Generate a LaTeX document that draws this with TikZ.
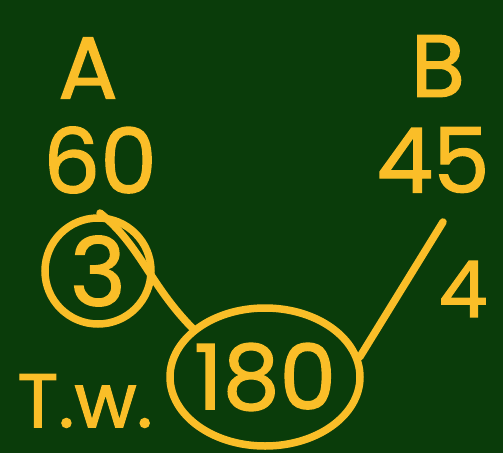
\documentclass[tikz,border=0pt]{standalone}
\usepackage{fontspec}
\setmainfont{Poppins}[FakeBold=1.5,AutoFakeBold=1.5]
\usetikzlibrary{shapes.geometric}
\definecolor{board}{RGB}{10,60,10}
\definecolor{chalk}{RGB}{250,190,40}
\begin{document}
\begin{tikzpicture}[x=1pt,y=-1pt,
  chalktext/.style={text=chalk,inner sep=0pt,font=\fontsize{#1}{#1}\selectfont\bfseries},
  ring/.style={draw=chalk,line width=7.5pt},
  stroke/.style={draw=chalk,line width=7.5pt,line cap=round}]
\fill[board] (0,0) rectangle (503,453);
\useasboundingbox (0,0) rectangle (503,453);
\node[chalktext=88] (A) at (88,68) {A};
\node[chalktext=90] (n60) at (100,160) {60};
\node[chalktext=88] (B) at (438,66) {B};
\node[chalktext=90] (n45) at (433,160) {45};
\node[chalktext=95,ring,circle,minimum size=106pt] (three) at (98,271) {3};
\node[chalktext=90,ring,ellipse,inner xsep=-12pt,minimum width=190pt,minimum height=138pt] (c180) at (265,377) {180};
\node[chalktext=76] (tw) at (85,401) {T.w.};
\node[chalktext=78] (four) at (463,289) {4};
\coordinate (bend) at (443,222);
\draw[stroke] (100,213) .. controls (140,245) and (150,285) .. (c180.146);
\draw[stroke] (bend) -- (c180.12);
\end{tikzpicture}
\end{document}
